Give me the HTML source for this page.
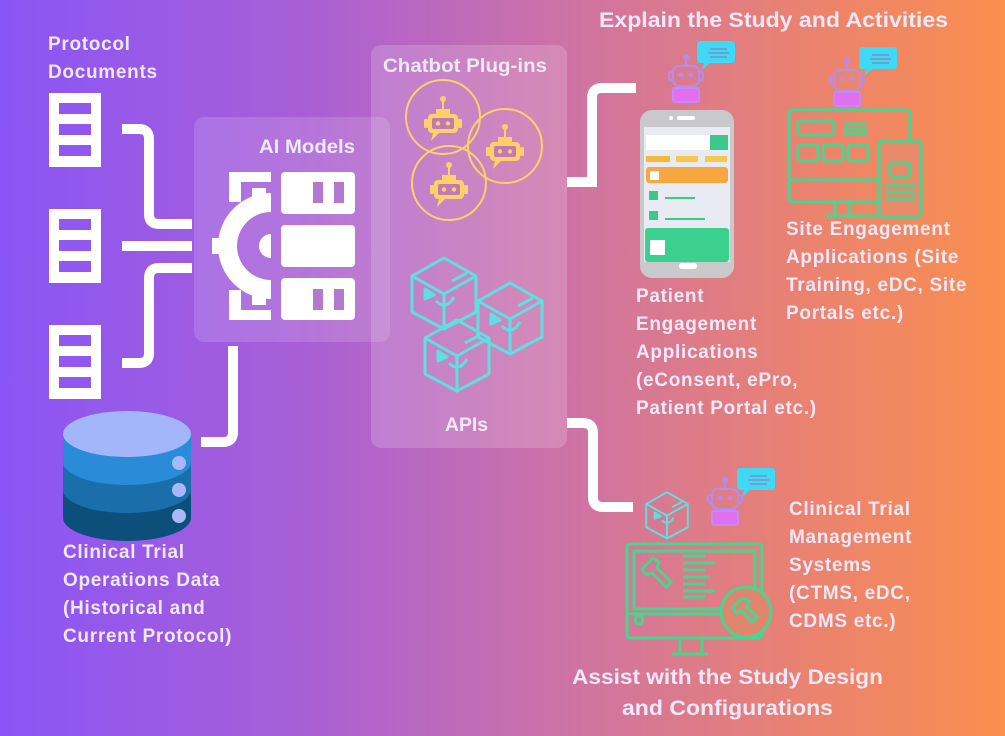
<!DOCTYPE html>
<html><head><meta charset="utf-8"><style>
html,body{margin:0;padding:0;width:1005px;height:736px;overflow:hidden}
svg{display:block}
text{font-family:"Liberation Sans",sans-serif;font-weight:bold;fill:#efe8f8}
</style></head><body>
<svg width="1005" height="736" viewBox="0 0 1005 736" xmlns="http://www.w3.org/2000/svg">
<defs>
<linearGradient id="bg" x1="0" y1="0" x2="1" y2="0">
<stop offset="0" stop-color="#8a55f6"/>
<stop offset="0.3" stop-color="#a85fd6"/>
<stop offset="0.55" stop-color="#cc72a8"/>
<stop offset="0.8" stop-color="#ea8270"/>
<stop offset="1" stop-color="#fa8f4e"/>
</linearGradient>
<g id="robotG">
<line x1="0" y1="-24" x2="0" y2="-15" stroke="#fdd06a" stroke-width="2"/>
<circle cx="0" cy="-25" r="3" fill="#fdd06a"/>
<path d="M-7,-15 h14 v5 h-14z" fill="#fdd06a"/>
<rect x="-15" y="-10" width="30" height="19" rx="4" fill="#fdd06a"/>
<rect x="-19" y="-5" width="4" height="9" rx="1" fill="#fdd06a"/>
<rect x="15" y="-5" width="4" height="9" rx="1" fill="#fdd06a"/>
<rect x="-11" y="-6" width="22" height="11" rx="2" fill="#c27ab5"/>
<circle cx="-5" cy="-0.5" r="2.2" fill="#fdd06a"/><circle cx="5" cy="-0.5" r="2.2" fill="#fdd06a"/>
<path d="M-10,9 l-2,8 l8,-8z" fill="#fdd06a"/>
</g>
<g id="cube" fill="none" stroke="#5fe0e0" stroke-width="3" stroke-linejoin="round">
<path d="M0,-35 L32,-17 L32,19 L0,36 L-32,19 L-32,-17 Z"/>
<path d="M-32,-17 L0,1 L32,-17 M0,1 L0,36"/>
<path d="M-19,-4 l9,6 l-9,4z" fill="#5fe0e0"/>
<path d="M-8,8 q10,10 18,-4" />
<path d="M8,-12 l15,-8"/>
</g>
<g id="robotP">
<line x1="0" y1="-24" x2="0" y2="-16" stroke="#b48cf0" stroke-width="2"/>
<circle cx="0" cy="-25" r="3" fill="#b48cf0"/>
<rect x="-13" y="-16" width="26" height="20" rx="6" fill="none" stroke="#b48cf0" stroke-width="2"/>
<rect x="-17" y="-10" width="4" height="8" rx="2" fill="none" stroke="#b48cf0" stroke-width="2"/>
<rect x="13" y="-10" width="4" height="8" rx="2" fill="none" stroke="#b48cf0" stroke-width="2"/>
<circle cx="-5" cy="-7" r="2.5" fill="#b48cf0"/><circle cx="5" cy="-7" r="2.5" fill="#b48cf0"/>
<rect x="-13" y="6" width="26" height="14" rx="2" fill="#e26ff0" stroke="#c48af0" stroke-width="2"/>
</g>
<g id="bubble">
<path d="M0,0 h32 a3,3 0 0 1 3,3 v16 a3,3 0 0 1 -3,3 h-22 l-8,7 l2,-7 h-4 a3,3 0 0 1 -3,-3 v-16 a3,3 0 0 1 3,-3z" fill="#3fd8f5"/>
<line x1="10" y1="8" x2="27" y2="8" stroke="#7c8fc8" stroke-width="1.5"/>
<line x1="8" y1="12" x2="29" y2="12" stroke="#7c8fc8" stroke-width="1.5"/>
<line x1="10" y1="16" x2="27" y2="16" stroke="#7c8fc8" stroke-width="1.5"/>
</g>
<g id="doc">
<rect x="0" y="0" width="52" height="74" fill="#fff"/>
<rect x="10" y="10" width="32" height="11" fill="#9058ee"/>
<rect x="10" y="31" width="32" height="11" fill="#9058ee"/>
<rect x="10" y="52" width="32" height="11" fill="#9058ee"/>
</g>
</defs>
<rect width="1005" height="736" fill="url(#bg)"/>

<rect x="194" y="117" width="196" height="225" rx="10" fill="#ffffff" fill-opacity="0.14"/>
<rect x="371" y="45" width="196" height="403" rx="10" fill="#ffffff" fill-opacity="0.17"/>

<use href="#doc" x="49" y="93"/>
<use href="#doc" x="49" y="209"/>
<use href="#doc" x="49" y="325"/>

<g fill="none" stroke="#fff" stroke-width="10">
<path d="M122,129 H139 Q149,129 149,139 V214 Q149,224 159,224 H192"/>
<path d="M122,246 H192"/>
<path d="M192,268 H159 Q149,268 149,278 V353 Q149,363 139,363 H122"/>
<path d="M233,346 V432 Q233,442 223,442 H201"/>
<path d="M567,182 H592 V98 Q592,88 602,88 H636"/>
<path d="M567,423 H583 Q593,423 593,433 V497 Q593,507 603,507 H633"/>
</g>

<text x="259" y="153" font-size="19" textLength="96" lengthAdjust="spacingAndGlyphs">AI Models</text>
<g fill="#fff">
<rect x="281" y="172" width="74" height="42" rx="4"/>
<rect x="281" y="225" width="74" height="42" rx="4"/>
<rect x="281" y="278" width="74" height="42" rx="4"/>
<rect x="313" y="182" width="10" height="21" fill="#b378d0"/><rect x="334" y="182" width="10" height="21" fill="#b378d0"/>
<rect x="313" y="289" width="10" height="21" fill="#b378d0"/><rect x="334" y="289" width="10" height="21" fill="#b378d0"/>
<path d="M271,193 A53,53 0 0 0 271,299 V280 A34,34 0 0 1 271,212 Z"/>
<rect x="229" y="172" width="42" height="10"/>
<rect x="229" y="172" width="12" height="30"/>
<rect x="229" y="310" width="42" height="10"/>
<rect x="229" y="290" width="12" height="30"/>
<rect x="252" y="188" width="14" height="10"/>
<rect x="252" y="295" width="14" height="10"/>
<rect x="212" y="238" width="14" height="16"/>
<path d="M271,234 A12,12 0 0 0 271,258Z"/>
</g>

<path d="M63,434 V518 A64,23 0 0 0 191,518 V434Z" fill="#0d4f7b"/>
<path d="M63,434 V490 A64,23 0 0 0 191,490 V434Z" fill="#1a6faa"/>
<path d="M63,434 V462 A64,23 0 0 0 191,462 V434Z" fill="#2a8bd8"/>
<ellipse cx="127" cy="434" rx="64" ry="23" fill="#a4b6fb"/>
<circle cx="179" cy="463" r="7" fill="#a8b8fb"/>
<circle cx="179" cy="490" r="7" fill="#a8b8fb"/>
<circle cx="179" cy="516" r="7" fill="#a8b8fb"/>

<text x="383" y="72" font-size="19" textLength="164" lengthAdjust="spacingAndGlyphs">Chatbot Plug-ins</text>
<g fill="none" stroke="#fdd06a" stroke-width="2">
<circle cx="443" cy="117" r="37"/><circle cx="505" cy="146" r="37"/><circle cx="449" cy="183" r="37"/>
</g>
<use href="#robotG" x="443" y="124"/>
<use href="#robotG" x="505" y="152"/>
<use href="#robotG" x="449" y="190"/>

<use href="#cube" x="444" y="293"/>
<use href="#cube" x="510" y="318"/>
<use href="#cube" x="457" y="355"/>
<text x="445" y="431" font-size="19" textLength="43" lengthAdjust="spacingAndGlyphs">APIs</text>

<use href="#robotP" x="686" y="82"/>
<use href="#bubble" x="700" y="41"/>
<rect x="640" y="110" width="94" height="168" rx="12" fill="#c9c9cc"/>
<rect x="644" y="127" width="86" height="135" fill="#e9ebf3"/>
<rect x="677" y="116" width="18" height="4" rx="2" fill="#fff"/><circle cx="671" cy="118" r="2" fill="#fff"/>
<rect x="679" y="263" width="18" height="6" rx="3" fill="#fff"/>
<rect x="646" y="135" width="65" height="15" fill="#fff"/>
<rect x="710" y="135" width="18" height="15" fill="#3cc88c"/>
<rect x="646" y="156" width="24" height="6" fill="#f5b93a"/><rect x="676" y="156" width="22" height="6" fill="#f8c84a"/><rect x="705" y="156" width="22" height="6" fill="#f8c84a"/>
<rect x="646" y="167" width="82" height="16" rx="3" fill="#f8a640"/>
<rect x="650" y="171" width="9" height="9" fill="#fff"/>
<rect x="649" y="191" width="9" height="9" fill="#3cc88c"/>
<rect x="665" y="197" width="30" height="2" fill="#3cc88c"/>
<rect x="649" y="211" width="9" height="9" fill="#3cc88c"/>
<rect x="665" y="218" width="40" height="2" fill="#3cc88c"/>
<rect x="645" y="228" width="84" height="34" rx="3" fill="#3bd08e"/>
<rect x="650" y="240" width="15" height="15" fill="#fff"/>

<use href="#robotP" x="847" y="86"/>
<use href="#bubble" x="862" y="47"/>
<g fill="none" stroke="#47d68f" stroke-width="3">
<rect x="789" y="110" width="121" height="92" rx="3"/>
<line x1="789" y1="180" x2="878" y2="180"/>
<path d="M835,202 V215 M850,202 V215 M826,216 H878"/>
<rect x="798" y="121" width="36" height="14" rx="3"/>
<path d="M843,124 H868 M843,129 H868 M843,134 H868"/>
<rect x="798" y="145" width="20" height="16" rx="3"/><rect x="823" y="145" width="20" height="16" rx="3"/><rect x="848" y="145" width="20" height="16" rx="3"/>
<rect x="879" y="141" width="42" height="76" rx="3" fill="#e88a6a"/>
<rect x="890" y="163" width="20" height="14" rx="3"/>
<path d="M885,185 H916 M885,192 H916 M885,199 H916"/>
</g>

<use href="#cube" x="667" y="515" transform="translate(667 515) scale(0.65) translate(-667 -515)"/>
<use href="#robotP" x="725" y="505"/>
<use href="#bubble" x="740" y="468"/>
<g fill="none" stroke="#47d68f" stroke-width="3">
<rect x="627" y="544" width="135" height="94" rx="3"/>
<rect x="634" y="551" width="121" height="58"/>
<path d="M627,614 H723"/>
<circle cx="639" cy="620" r="4"/>
<path d="M680,638 V652 M702,638 V652 M672,654 H708"/>
<path d="M683,556 H705 M683,563 H715 M683,570 H705 M683,577 H710 M683,584 H705 M683,591 H715 M683,597 H705"/>
<path d="M648,563 l-6,6 l4,6 l6,-2 l14,14 l5,-5 l-14,-14 l2,-6 l-6,-4z"/>
<circle cx="746" cy="612" r="25" fill="#e0866f"/>
<path d="M738,602 l-5,5 l3,6 l6,-2 l10,11 l5,-5 l-10,-10 l2,-6 l-6,-3z"/>
</g>

<g font-size="19" letter-spacing="0.7">
<text x="48" y="50">Protocol</text>
<text x="48" y="78">Documents</text>
<text x="63" y="558">Clinical Trial</text>
<text x="63" y="586">Operations Data</text>
<text x="63" y="614">(Historical and</text>
<text x="63" y="642">Current Protocol)</text>
<text x="636" y="302">Patient</text>
<text x="636" y="330">Engagement</text>
<text x="636" y="358">Applications</text>
<text x="636" y="386">(eConsent, ePro,</text>
<text x="636" y="414">Patient Portal etc.)</text>
<text x="786" y="235">Site Engagement</text>
<text x="786" y="263">Applications (Site</text>
<text x="786" y="291">Training, eDC, Site</text>
<text x="786" y="319">Portals etc.)</text>
<text x="789" y="515">Clinical Trial</text>
<text x="789" y="543">Management</text>
<text x="789" y="571">Systems</text>
<text x="789" y="599">(CTMS, eDC,</text>
<text x="789" y="627">CDMS etc.)</text>
</g>
<text x="599" y="27" font-size="21" textLength="349" lengthAdjust="spacingAndGlyphs">Explain the Study and Activities</text>
<text x="572" y="684" font-size="21" textLength="311" lengthAdjust="spacingAndGlyphs">Assist with the Study Design</text>
<text x="622" y="715" font-size="21" textLength="211" lengthAdjust="spacingAndGlyphs">and Configurations</text>
</svg>
</body></html>
